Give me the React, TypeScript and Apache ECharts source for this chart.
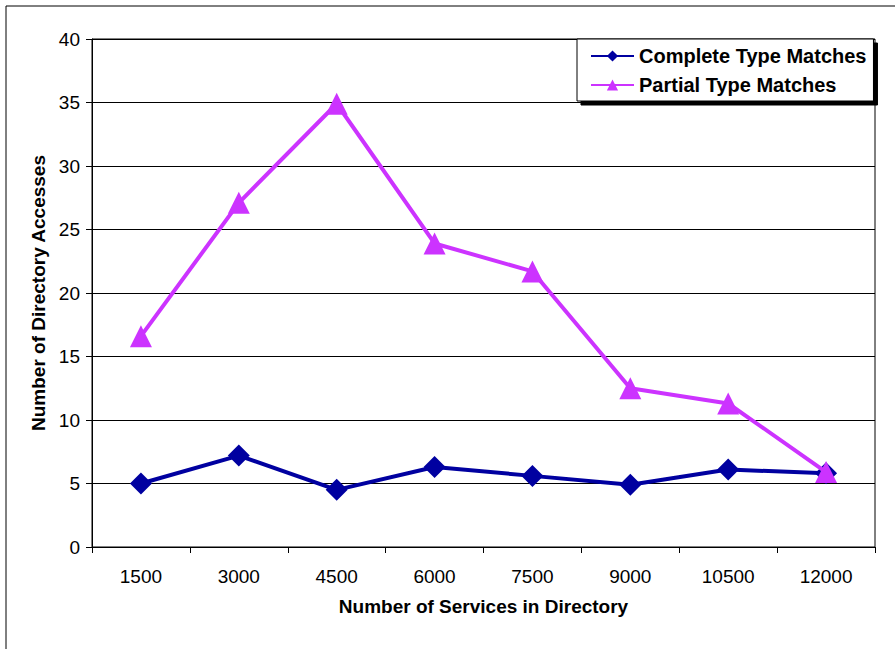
import React, { useEffect, useRef } from "react";
import * as echarts from "echarts";

const categories = ["1500", "3000", "4500", "6000", "7500", "9000", "10500", "12000"];
const completeMatches = [5.0, 7.2, 4.5, 6.3, 5.6, 4.9, 6.1, 5.8];
const partialMatches = [16.6, 27.1, 34.9, 23.9, 21.7, 12.5, 11.3, 5.9];
const seriesNames = ["Complete Type Matches", "Partial Type Matches"];

export default function App() {
  const ref = useRef<HTMLDivElement>(null);
  useEffect(() => {
    document.body.style.margin = "0";
    const chart = echarts.init(ref.current!, null, { renderer: "svg" });
    const font = "Liberation Sans, Arial, sans-serif";
    chart.setOption({
      animation: false,
      backgroundColor: "#fff",
      textStyle: { fontFamily: font },
      grid: {
        left: 92,
        top: 39,
        right: 20,
        bottom: 102,
        show: true,
        borderColor: "#000",
        borderWidth: 1,
      },
      graphic: [
        {
          type: "rect",
          shape: { x: 6, y: 6, width: 950, height: 700 },
          style: { fill: "none", stroke: "#000", lineWidth: 1 },
          silent: true,
          z: -1,
        },
      ],
      legend: {
        left: 577,
        top: 39,
        orient: "vertical",
        itemGap: 9,
        itemWidth: 43,
        itemHeight: 14,
        padding: [7, 7, 6, 13],
        backgroundColor: "#fff",
        borderColor: "#000",
        borderWidth: 1,
        shadowColor: "#000",
        shadowBlur: 0,
        shadowOffsetX: 4,
        shadowOffsetY: 4,
        textStyle: { fontFamily: font, fontSize: 20, fontWeight: "bold", color: "#000" },
        data: seriesNames,
      },
      xAxis: {
        type: "category",
        data: categories,
        boundaryGap: true,
        name: "Number of Services in Directory",
        nameLocation: "middle",
        nameGap: 50,
        nameTextStyle: { fontFamily: font, fontSize: 19, fontWeight: "bold", color: "#000" },
        axisLine: { lineStyle: { color: "#000", width: 1 } },
        axisTick: { show: true, length: 6, inside: false, lineStyle: { color: "#000" } },
        axisLabel: { fontFamily: font, fontSize: 19, color: "#000", margin: 20 },
        splitLine: { show: false },
      },
      yAxis: {
        type: "value",
        min: 0,
        max: 40,
        interval: 5,
        name: "Number of Directory Accesses",
        nameLocation: "middle",
        nameGap: 44,
        nameTextStyle: { fontFamily: font, fontSize: 19, fontWeight: "bold", color: "#000" },
        axisLine: { show: true, lineStyle: { color: "#000", width: 1 } },
        axisTick: { show: true, length: 6, lineStyle: { color: "#000" } },
        axisLabel: { fontFamily: font, fontSize: 19, color: "#000", margin: 12 },
        splitLine: { show: true, lineStyle: { color: "#000", width: 1 } },
      },
      series: [
        {
          name: seriesNames[0],
          type: "line",
          data: completeMatches,
          symbol: "diamond",
          symbolSize: 22,
          lineStyle: { color: "#0000A0", width: 4 },
          itemStyle: { color: "#0000A0" },
          z: 3,
        },
        {
          name: seriesNames[1],
          type: "line",
          data: partialMatches,
          symbol: "triangle",
          symbolSize: 22,
          lineStyle: { color: "#CC33FF", width: 4 },
          itemStyle: { color: "#CC33FF" },
          z: 4,
        },
      ],
    });
    return () => chart.dispose();
  }, []);
  return <div ref={ref} style={{ width: 895, height: 649 }} />;
}
